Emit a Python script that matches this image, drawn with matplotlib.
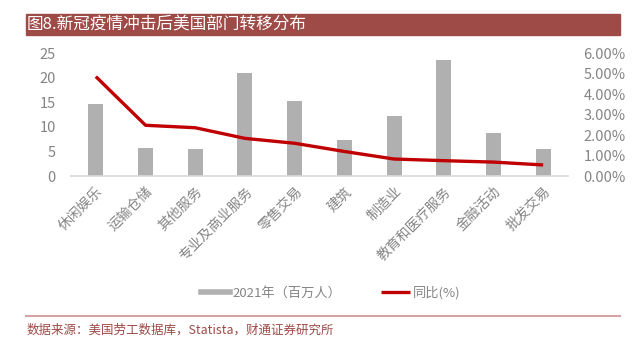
import matplotlib
matplotlib.use('Agg')
import matplotlib.pyplot as plt
from matplotlib.patches import Rectangle
from matplotlib.lines import Line2D
from matplotlib.ticker import FuncFormatter

plt.rcParams['font.family'] = ['Noto Sans CJK SC', 'DejaVu Sans']

# 各部门就业人数与同比
sectors = ['休闲娱乐', '运输仓储', '其他服务', '专业及商业服务', '零售交易',
           '建筑', '制造业', '教育和医疗服务', '金融活动', '批发交易']
workers_2021 = [14.7, 5.8, 5.6, 20.9, 15.3, 7.3, 12.3, 23.6, 8.7, 5.6]
yoy_pct = [4.86, 2.48, 2.36, 1.84, 1.60, 1.20, 0.83, 0.75, 0.68, 0.54]

W, H = 633, 340
fig = plt.figure(figsize=(W / 100, H / 100), dpi=100)

gray_txt = '#858585'
brown = '#9E4A47'

# 标题栏
fig.patches.append(Rectangle((25.5 / W, 1 - 34.5 / H), (620 - 25.5) / W, 21 / H,
                             transform=fig.transFigure, color=brown, zorder=0))
fig.text(27 / W, 1 - 24 / H, '图8.新冠疫情冲击后美国部门转移分布', color='white',
         fontsize=12, va='center', ha='left', fontweight='light')

ax = fig.add_axes([71 / W, 1 - 176 / H, (568 - 71) / W, (176 - 53.3) / H])
x = range(len(sectors))
ax.bar(x, workers_2021, width=0.3, color='#B0B0B0', zorder=2, label='2021年（百万人）')
ax.set_ylim(0, 25)
ax.set_yticks(range(0, 26, 5))
ax.set_xlim(-0.5, len(sectors) - 0.5)
ax.set_xticks(list(x))
ax.set_xticklabels(sectors, rotation=45, ha='right', rotation_mode='anchor',
                   fontsize=10, color=gray_txt, fontweight='light')
ax.tick_params(axis='x', length=0, pad=6)
ax.tick_params(axis='y', length=0, pad=11, labelsize=10.5, labelcolor=gray_txt)
for s in ['top', 'right', 'left']:
    ax.spines[s].set_visible(False)
ax.spines['bottom'].set_color('#D9D9D9')
ax.spines['bottom'].set_linewidth(1.2)

ax2 = ax.twinx()
ax2.plot(x, yoy_pct, color='#C00000', lw=2.4, solid_joinstyle='round',
         solid_capstyle='butt', zorder=3, label='同比(%)')
ax2.set_ylim(0, 6)
ax2.set_yticks(range(0, 7))
ax2.yaxis.set_major_formatter(FuncFormatter(lambda v, p: f'{v:.2f}%'))
ax2.tick_params(axis='y', length=0, pad=11, labelsize=10.5, labelcolor=gray_txt)
for s in ['top', 'right', 'left', 'bottom']:
    ax2.spines[s].set_visible(False)
for lab in ax.get_yticklabels() + ax2.get_yticklabels():
    lab.set_fontweight('light')

# 图例
l1 = ax.get_legend_handles_labels()[1]
h2, l2 = ax2.get_legend_handles_labels()
h1 = [Line2D([], [], color='#B0B0B0', lw=4)]
fig.legend(h1 + h2, l1 + l2, loc='center', bbox_to_anchor=(331 / W, 1 - 293 / H),
           ncol=2, frameon=False, prop={'size': 9.5, 'weight': 'light'},
           labelcolor=gray_txt, handlelength=2.2, handletextpad=0.2, columnspacing=3.0)

# 数据来源
fig.lines.append(Line2D([25.5 / W, 620 / W], [1 - 315.7 / H] * 2, transform=fig.transFigure,
                        color='#D4A5A3', lw=1.5))
fig.text(27 / W, 1 - 330 / H, '数据来源：美国劳工数据库，Statista，财通证券研究所',
         color=brown, fontsize=9, va='center', ha='left', fontweight='light')

fig.savefig('out.png', dpi=100)
